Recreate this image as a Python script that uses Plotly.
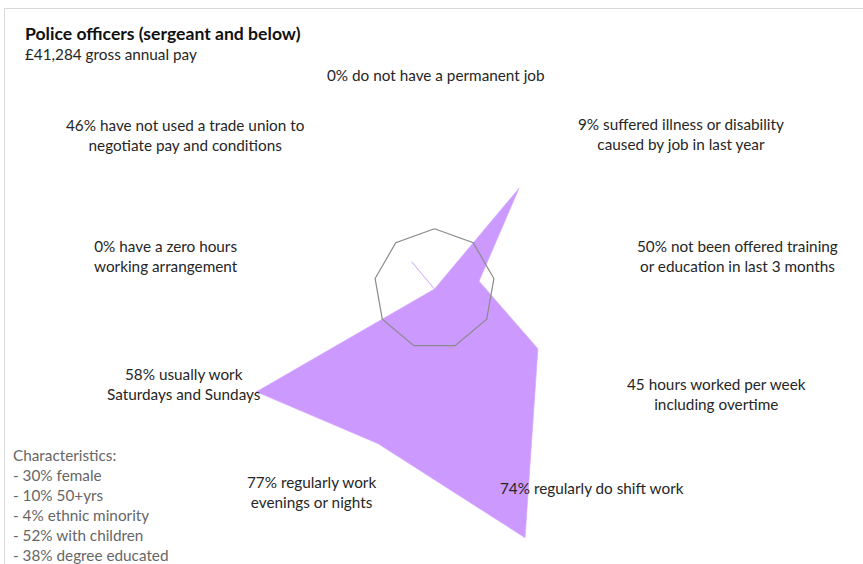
import plotly.graph_objects as go

# Job-quality measures, police value relative to the all-worker average (1 = average)
measures = [
    "Non-permanent job",
    "Illness caused by job",
    "No training offered",
    "Hours worked per week",
    "Shift work",
    "Evenings or nights",
    "Weekends",
    "Zero hours",
    "No trade union",
]
relative_values = [0.0, 2.18, 0.75, 1.98, 4.39, 2.73, 3.41, 0.0, 0.59]
average_values = [1, 1, 1, 1, 1, 1, 1, 1, 1]

axis_labels = [
    "0% do not have a permanent job",
    "9% suffered illness or disability<br>caused by job in last year",
    "50% not been offered training<br>or education in last 3 months",
    "45 hours worked per week<br>including overtime",
    "74% regularly do shift work",
    "77% regularly work<br>evenings or nights",
    "58% usually work<br>Saturdays and Sundays",
    "0% have a zero hours<br>working arrangement",
    "46% have not used a trade union to<br>negotiate pay and conditions",
]

title_text = "Police officers (sergeant and below)"
pay_text = "£41,284 gross annual pay"
characteristics = [
    "Characteristics:",
    "- 30% female",
    "- 10% 50+yrs",
    "- 4% ethnic minority",
    "- 52% with children",
    "- 38% degree educated",
]

W, H = 863, 564
FONT = "Lato"
TEXT_SIZE = 15.3

# label anchor points in pixels (centre x, centre y of the text block)
label_pos = [
    (436, 75), (681, 134), (737, 256), (716, 394), (592, 488),
    (311, 492), (184, 384), (166, 256), (185, 135),
]


def px(x, y):
    return x / W, 1 - y / H


def closed(seq):
    return list(seq) + [seq[0]]


fig = go.Figure()

fig.add_trace(go.Scatterpolar(
    r=closed(relative_values), theta=closed(measures),
    mode="lines", fill="toself",
    fillcolor="#CC99FF", line=dict(color="#D4A8FF", width=0.7),
    hoverinfo="skip", showlegend=False,
))
fig.add_trace(go.Scatterpolar(
    r=closed(average_values), theta=closed(measures),
    mode="lines", line=dict(color="#8a8a8a", width=1.2),
    hoverinfo="skip", showlegend=False,
))

# polar area: centre at (434.5, 289) px, radius 275 px, 60.3 px per unit
radius_px = 275
unit_px = 60.3
cx = 434.5 / W
fig.update_layout(
    width=W, height=H,
    margin=dict(l=0, r=0, t=0, b=0),
    paper_bgcolor="white",
    polar=dict(
        domain=dict(x=[cx - 0.33, cx + 0.33], y=[0, 2 * radius_px / H]),
        bgcolor="rgba(0,0,0,0)",
        radialaxis=dict(visible=False, range=[0, radius_px / unit_px]),
        angularaxis=dict(visible=False, rotation=90, direction="clockwise",
                         type="category", categoryorder="array", categoryarray=measures),
    ),
)

annotations = []
for text, (x, y) in zip(axis_labels, label_pos):
    ax, ay = px(x, y)
    annotations.append(dict(
        text=text, x=ax, y=ay, xref="paper", yref="paper",
        xanchor="center", yanchor="middle", showarrow=False, align="center",
        font=dict(family=FONT, size=TEXT_SIZE, color="#262626"),
    ))

tx, ty = px(23, 33)
annotations.append(dict(text="<b>" + title_text + "</b>", x=tx, y=ty, xref="paper", yref="paper",
                        xanchor="left", yanchor="middle", showarrow=False,
                        font=dict(family=FONT, size=17.6, color="#111111")))
sx, sy = px(23, 54)
annotations.append(dict(text=pay_text, x=sx, y=sy, xref="paper", yref="paper",
                        xanchor="left", yanchor="middle", showarrow=False,
                        font=dict(family=FONT, size=TEXT_SIZE, color="#262626")))
for i, line in enumerate(characteristics):
    lx, ly = px(11, 455 + 20 * i)
    annotations.append(dict(text=line, x=lx, y=ly, xref="paper", yref="paper",
                            xanchor="left", yanchor="middle", showarrow=False,
                            font=dict(family=FONT, size=TEXT_SIZE, color="#666666")))

fig.update_layout(annotations=annotations)

# light frame along the top and left edges
fig.add_shape(type="line", xref="paper", yref="paper",
              x0=4.5 / W, y0=0, x1=4.5 / W, y1=1 - 8.5 / H,
              line=dict(color="#d9d9d9", width=1))
fig.add_shape(type="line", xref="paper", yref="paper",
              x0=4.5 / W, y0=1 - 8.5 / H, x1=1, y1=1 - 8.5 / H,
              line=dict(color="#d9d9d9", width=1))

fig.write_html("out.html")
